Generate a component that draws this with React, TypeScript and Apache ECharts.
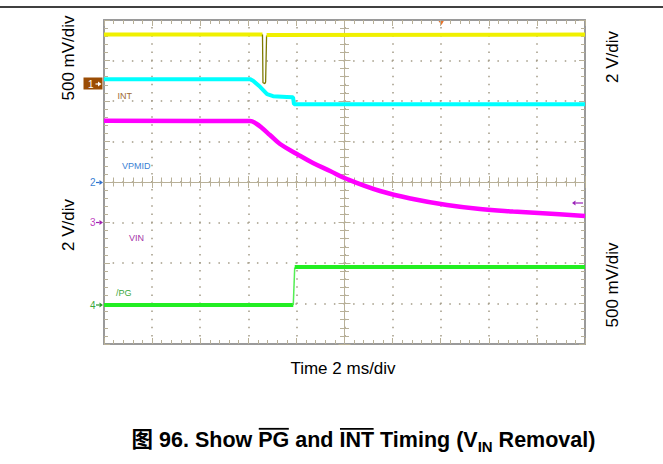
import React, { useEffect, useRef } from 'react';
import * as echarts from 'echarts';

// ---- scales (time in ms, amplitude in screen divisions) ----
const TIME_MIN = -10;
const TIME_MAX = 10;
const TIME_STEP = 2;
const DIV_MIN = -4;
const DIV_MAX = 4;
const DIV_STEP = 1;

// ---- traces: [time ms, divisions] ----
const intBefore: [number, number][] = [[-10, 3.64], [-3.41, 3.64]];
const intGlitch: [number, number][] = [[-3.41, 3.64], [-3.39, 2.45], [-3.31, 2.43], [-3.28, 2.47], [-3.24, 3.62]];
const intAfter: [number, number][] = [[-3.24, 3.63], [10, 3.64]];

const vpmid: [number, number][] = [
  [-10, 2.54], [-3.93, 2.54], [-3.8, 2.5], [-3.51, 2.35], [-3.22, 2.17], [-2.97, 2.12],
  [-2.4, 2.1], [-2.14, 2.09], [-2.1, 1.92], [10, 1.92],
];

const vin: [number, number][] = [
  [-10, 1.51], [-3.93, 1.506], [-3.68, 1.444], [-3.43, 1.333], [-3.1, 1.16], [-2.68, 0.938],
  [-1.98, 0.691], [-1.31, 0.469], [-0.6, 0.272], [0.1, 0.074], [1.48, -0.222], [2.85, -0.42],
  [4.26, -0.568], [5.63, -0.667], [7.01, -0.728], [8.42, -0.778], [10, -0.84],
];

const pgLow: [number, number][] = [[-10, -3.04], [-2.13, -3.04]];
const pgEdge: [number, number][] = [[-2.13, -3.04], [-2.07, -2.11]];
const pgHigh: [number, number][] = [[-2.07, -2.1], [10, -2.1]];

// ---- texts ----
const leftScaleLabels = ['500 mV/div', '2 V/div'];
const rightScaleLabels = ['2 V/div', '500 mV/div'];
const timeLabel = 'Time 2 ms/div';
const channelNames = ['INT', 'VPMID', 'VIN', '/PG'];
const titleParts = [
  { t: '图 96. Show ', sub: false, over: false },
  { t: 'PG', sub: false, over: true },
  { t: ' and ', sub: false, over: false },
  { t: 'INT', sub: false, over: true },
  { t: ' Timing (V', sub: false, over: false },
  { t: 'IN', sub: true, over: false },
  { t: ' Removal)', sub: false, over: false },
];

const FONT = '"Liberation Sans", Arial, "Noto Sans CJK SC", sans-serif';
const TAN = '#b8b098';
const DOT = '#a39b86';
const BORDER = '#9a9a9a';

function xAxisDef(position: 'top' | 'bottom', onZero: boolean, inside: boolean, border: boolean, split: boolean) {
  return {
    type: 'value',
    min: TIME_MIN,
    max: TIME_MAX,
    interval: TIME_STEP,
    position,
    axisLine: {
      show: true,
      onZero,
      onZeroAxisIndex: 0,
      lineStyle: { color: border ? BORDER : TAN, width: border ? 2 : 1 },
    },
    axisTick: { show: true, inside, length: 6, lineStyle: { color: TAN, width: 1 } },
    minorTick: { show: true, splitNumber: 5, length: border ? 4 : 4.5, lineStyle: { color: TAN, width: 1 } },
    axisLabel: { show: false },
    splitLine: {
      show: split,
      lineStyle: { color: DOT, width: 1.5, type: [1.5, 6.6], dashOffset: 0.75 },
    },
  };
}

function yAxisDef(position: 'left' | 'right', onZero: boolean, inside: boolean, border: boolean, split: boolean) {
  return {
    type: 'value',
    min: DIV_MIN,
    max: DIV_MAX,
    interval: DIV_STEP,
    position,
    axisLine: {
      show: true,
      onZero,
      onZeroAxisIndex: 0,
      lineStyle: { color: border ? BORDER : TAN, width: border ? 2 : 1 },
    },
    axisTick: { show: true, inside, length: 6, lineStyle: { color: TAN, width: 1 } },
    minorTick: { show: true, splitNumber: 5, length: border ? 4 : 4.5, lineStyle: { color: TAN, width: 1 } },
    axisLabel: { show: false },
    splitLine: {
      show: split,
      lineStyle: { color: DOT, width: 1.5, type: [1.5, 8.12], dashOffset: 0.75 },
    },
  };
}

function trace(name: string, data: [number, number][], color: string, width: number, smooth: number | boolean = false) {
  return {
    type: 'line',
    name,
    data,
    xAxisIndex: 0,
    yAxisIndex: 0,
    showSymbol: false,
    smooth,
    lineStyle: { color, width },
    itemStyle: { color },
    emphasis: { disabled: true },
    clip: true,
    z: 5,
  };
}

function arrow(xEnd: number, y: number, color: string, dir: 1 | -1, len = 7) {
  const tipLen = 3.5;
  return [
    {
      type: 'line',
      shape: { x1: xEnd - dir * len, y1: y, x2: xEnd - dir * tipLen, y2: y },
      style: { stroke: color, lineWidth: 1.2 },
      silent: true,
    },
    {
      type: 'polygon',
      shape: { points: [[xEnd, y], [xEnd - dir * tipLen, y - 2.5], [xEnd - dir * tipLen, y + 2.5]] },
      style: { fill: color },
      silent: true,
    },
  ];
}

export default function App() {
  const ref = useRef<HTMLDivElement>(null);

  useEffect(() => {
    if (!ref.current) return;
    const chart = echarts.init(ref.current, undefined, { renderer: 'svg' });

    // measure title segments
    const ctx = document.createElement('canvas').getContext('2d')!;
    const mainSize = 21.5;
    const subSize = 15;
    const widths = titleParts.map((p) => {
      ctx.font = `bold ${p.sub ? subSize : mainSize}px ${FONT}`;
      return ctx.measureText(p.t).width;
    });
    const total = widths.reduce((a, b) => a + b, 0);
    let cx = 363.5 - total / 2;
    const titleEls: any[] = [];
    titleParts.forEach((p, i) => {
      titleEls.push({
        type: 'text',
        x: cx,
        y: p.sub ? 446.5 : 440,
        silent: true,
        style: {
          text: p.t,
          font: `bold ${p.sub ? subSize : mainSize}px ${FONT}`,
          fill: '#000',
          align: 'left',
          verticalAlign: 'middle',
        },
      });
      if (p.over) {
        titleEls.push({
          type: 'line',
          silent: true,
          shape: { x1: cx + 0.5, y1: 428.8, x2: cx + widths[i] - 0.5, y2: 428.8 },
          style: { stroke: '#000', lineWidth: 1.8 },
        });
      }
      cx += widths[i];
    });

    const smallLabel = (text: string, x: number, y: number, color: string) => ({
      type: 'text',
      x,
      y,
      silent: true,
      style: { text, font: `9px ${FONT}`, fill: color, align: 'left', verticalAlign: 'middle' },
    });
    const rotLabel = (text: string, x: number, y: number) => ({
      type: 'text',
      x,
      y,
      rotation: Math.PI / 2,
      silent: true,
      style: { text, font: `17px ${FONT}`, fill: '#000', align: 'center', verticalAlign: 'middle' },
    });

    const graphic: any[] = [
      // page rule at top
      { type: 'line', silent: true, shape: { x1: 0, y1: 7, x2: 663, y2: 7 }, style: { stroke: '#000', lineWidth: 1.5 } },
      rotLabel(leftScaleLabels[0], 68, 58),
      rotLabel(leftScaleLabels[1], 68, 225),
      rotLabel(rightScaleLabels[0], 612, 57),
      rotLabel(rightScaleLabels[1], 612, 285),
      {
        type: 'text',
        x: 343,
        y: 368,
        silent: true,
        style: { text: timeLabel, font: `17px ${FONT}`, fill: '#000', align: 'center', verticalAlign: 'middle' },
      },
      // channel 1 marker box
      { type: 'rect', silent: true, shape: { x: 83.5, y: 77.5, width: 19, height: 12 }, style: { fill: '#9b4d05' } },
      {
        type: 'text', x: 88, y: 84, silent: true,
        style: { text: '1', font: `10px ${FONT}`, fill: '#fff', align: 'left', verticalAlign: 'middle' },
      },
      ...arrow(101.5, 84, '#ffffff', 1, 6),
      // channel 2,3,4 markers
      {
        type: 'text', x: 90, y: 182.5, silent: true,
        style: { text: '2', font: `10px ${FONT}`, fill: '#3b7fd4', align: 'left', verticalAlign: 'middle' },
      },
      ...arrow(103, 182.5, '#2f6fcc', 1),
      {
        type: 'text', x: 90, y: 222.5, silent: true,
        style: { text: '3', font: `10px ${FONT}`, fill: '#c040c0', align: 'left', verticalAlign: 'middle' },
      },
      ...arrow(103, 222.5, '#a020b0', 1),
      {
        type: 'text', x: 90, y: 305, silent: true,
        style: { text: '4', font: `10px ${FONT}`, fill: '#3aa83a', align: 'left', verticalAlign: 'middle' },
      },
      ...arrow(103, 305, '#2a9a2a', 1),
      // in-plot channel names
      smallLabel(channelNames[0], 117.5, 95.5, '#a06a35'),
      smallLabel(channelNames[1], 122, 166, '#3b7fd4'),
      smallLabel(channelNames[2], 129, 238, '#a432a8'),
      smallLabel(channelNames[3], 116, 293, '#3aa83a'),
      // trigger position marker at top
      {
        type: 'polygon', silent: true,
        shape: { points: [[437, 19], [445, 19], [441.5, 25]] },
        style: { fill: '#e8742c' },
      },
      // VIN trigger level arrow at right
      ...arrow(572, 203, '#9a20b8', -1, 11),
      ...titleEls,
    ];

    chart.setOption({
      animation: false,
      backgroundColor: '#ffffff',
      grid: { left: 104, top: 20, width: 481, height: 324, containLabel: false },
      xAxis: [
        xAxisDef('bottom', false, true, true, true),
        xAxisDef('top', false, true, true, false),
        xAxisDef('bottom', true, true, false, false),
        xAxisDef('bottom', true, false, false, false),
      ],
      yAxis: [
        yAxisDef('left', false, true, true, true),
        yAxisDef('right', false, true, true, false),
        yAxisDef('left', true, true, false, false),
        yAxisDef('left', true, false, false, false),
      ],
      series: [
        trace('VPMID', vpmid, '#00ffff', 4),
        trace('VIN', vin, '#ff00ff', 4.5, 0.4),
        trace('/PG', pgLow, '#22ee22', 4),
        trace('/PG edge', pgEdge, '#55ee55', 1.5),
        trace('/PG', pgHigh, '#22ee22', 4),
        trace('INT', intBefore, '#f0f000', 4),
        trace('INT glitch', intGlitch, '#7d7a00', 1.3),
        trace('INT', intAfter, '#f0f000', 4),
      ],
      graphic,
    });

    return () => chart.dispose();
  }, []);

  return (
    <div
      ref={ref}
      style={{ position: 'absolute', left: 0, top: 0, width: 663, height: 464, background: '#fff' }}
    />
  );
}
